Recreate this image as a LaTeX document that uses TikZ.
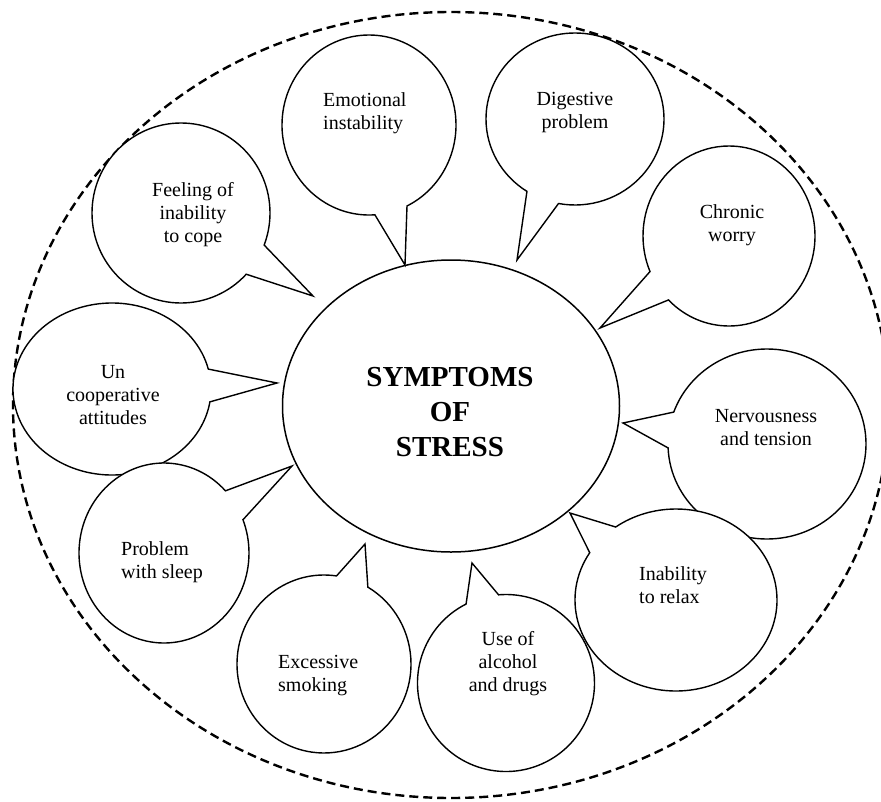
\documentclass[tikz,border=0pt]{standalone}
\usepackage{fontspec}
\setmainfont{Liberation Serif}
\usetikzlibrary{shapes.callouts,shapes.geometric}
\begin{document}
\begin{tikzpicture}[x=1pt,y=-1pt,
  bubble/.style={ellipse callout,draw=black,fill=white,line width=1.4pt,
    inner sep=0pt,outer sep=0pt,callout pointer arc=22},
  btext/.style={inner sep=0pt,font=\fontsize{20}{23}\selectfont},
  central/.style={ellipse,draw=black,fill=white,line width=1.5pt,
    inner sep=0pt,outer sep=0pt,minimum width=337pt,minimum height=292pt},
  outer/.style={draw=black,line width=2.4pt,dash pattern=on 9pt off 5pt}]
\useasboundingbox (0,0) rectangle (881,801);
% outer dashed ellipse
\draw[outer] (451,405) ellipse [x radius=438, y radius=393];
% central ellipse
\node[central] (c) at (451,406) {};
\node[inner sep=0pt,align=center,font=\fontsize{29}{35}\bfseries\selectfont] (ct) at (450,412) {SYMPTOMS\\OF\\STRESS};
% bubbles
\node[bubble,minimum width=178pt,minimum height=180pt,callout absolute pointer={(313,296)}] (b1) at (181,213) {};
\node[bubble,minimum width=174pt,minimum height=180pt,callout absolute pointer={(405,265)}] (b2) at (369,125) {};
\node[bubble,minimum width=178pt,minimum height=172pt,callout absolute pointer={(517,260)}] (b3) at (575,119) {};
\node[bubble,minimum width=172pt,minimum height=180pt,callout absolute pointer={(600,328)}] (b4) at (729,236) {};
\node[bubble,minimum width=198pt,minimum height=190pt,callout absolute pointer={(623,423)}] (b5) at (767,444) {};
\node[bubble,minimum width=177pt,minimum height=177pt,callout absolute pointer={(472,563)}] (b7) at (506,683) {};
\node[bubble,minimum width=202pt,minimum height=182pt,callout absolute pointer={(570,513)}] (b6) at (676,600) {};
\node[bubble,minimum width=174pt,minimum height=178pt,callout absolute pointer={(365,544)}] (b8) at (324,664) {};
\node[bubble,minimum width=198pt,minimum height=172pt,callout absolute pointer={(277,383)}] (b10) at (112,389) {};
\node[bubble,minimum width=170pt,minimum height=180pt,callout absolute pointer={(292,466)}] (b9) at (164,553) {};
% texts
\node[btext,align=center] (t1) at (193,215) {Feeling of\\inability\\to cope};
\node[btext,align=left,anchor=west] (t2) at (323,113) {Emotional\\instability};
\node[btext,align=center] (t3) at (575,113) {Digestive\\problem};
\node[btext,align=center] (t4) at (732,225) {Chronic\\worry};
\node[btext,align=center] (t5) at (766,428) {Nervousness\\and tension};
\node[btext,align=left,anchor=west] (t6) at (639,585) {Inability\\to relax};
\node[btext,align=center] (t7) at (508,664) {Use of\\alcohol\\and drugs};
\node[btext,align=left,anchor=west] (t8) at (278,676) {Excessive\\smoking};
\node[btext,align=left,anchor=west] (t9) at (121,562) {Problem\\with sleep};
\node[btext,align=center] (t10) at (113,395) {Un\\cooperative\\attitudes};
\end{tikzpicture}
\end{document}
